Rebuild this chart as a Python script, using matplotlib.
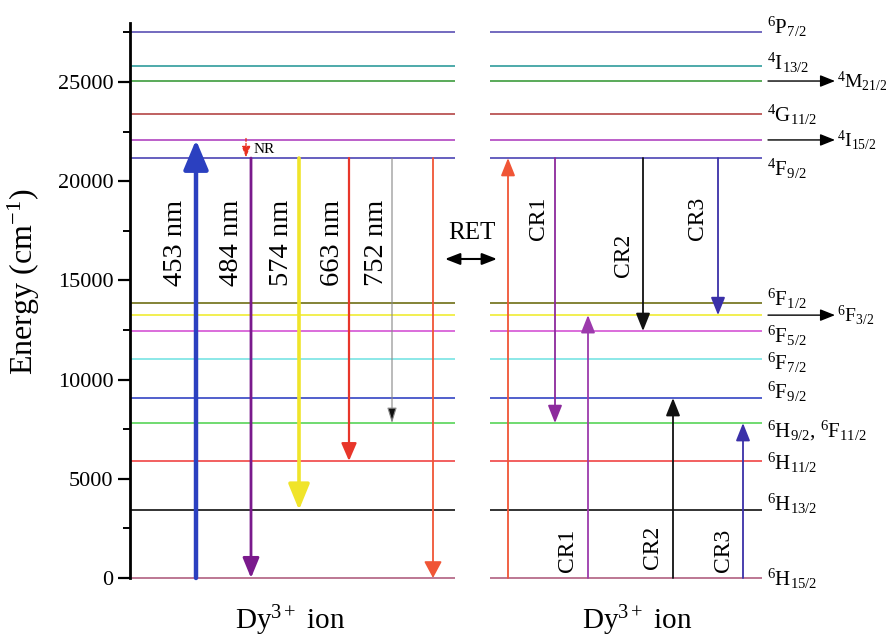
import matplotlib
matplotlib.use("Agg")
import matplotlib.pyplot as plt
from matplotlib.ticker import MultipleLocator

plt.rcParams['font.family'] = ['Liberation Serif', 'DejaVu Serif']
plt.rcParams['mathtext.fontset'] = 'custom'
plt.rcParams['mathtext.rm'] = 'Liberation Serif'
plt.rcParams['mathtext.it'] = 'Liberation Serif:italic'

# Dy3+ energy levels (cm^-1) and their line colours
level_energy = [27500, 25800, 25050, 23400, 22080, 21170, 13860, 13250,
                12450, 11040, 9070, 7810, 5900, 3430, 0]
level_color = ['#5b50b4', '#2f9c9c', '#3d9c3d', '#b44646', '#b044c0', '#4c44b4',
               '#6e6e14', '#f0ec34', '#d454d4', '#78e4e4', '#3444c4', '#58d458',
               '#f04444', '#111111', '#b06080']

# state labels next to the right panel (text, baseline energy)
state_text = [r'$^{6}\mathrm{P}_{7/2}$', r'$^{4}\mathrm{I}_{13/2}$', r'$^{4}\mathrm{G}_{11/2}$',
              r'$^{4}\mathrm{F}_{9/2}$', r'$^{6}\mathrm{F}_{1/2}$', r'$^{6}\mathrm{F}_{5/2}$',
              r'$^{6}\mathrm{F}_{7/2}$', r'$^{6}\mathrm{F}_{9/2}$',
              r'$^{6}\mathrm{H}_{9/2}$, $^{6}\mathrm{F}_{11/2}$', r'$^{6}\mathrm{H}_{11/2}$',
              r'$^{6}\mathrm{H}_{13/2}$', r'$^{6}\mathrm{H}_{15/2}$']
state_y = [27420, 25600, 22980, 20260, 13710, 11840, 10480, 9020, 7110, 5440, 3380, -400]

# overlapping states pointed to with arrows
side_text = [r'$^{4}\mathrm{M}_{21/2}$', r'$^{4}\mathrm{I}_{15/2}$', r'$^{6}\mathrm{F}_{3/2}$']
side_level = [25050, 22080, 13250]

# emission / excitation arrows in the left panel: x, start, end, colour, width, head w, head l
left_x = [66, 121, 169, 219, 262, 303]
left_from = [0, 21170, 21170, 21170, 21170, 21170]
left_to = [22080, 0, 3430, 5900, 7810, 0]
left_color = ['#2b40c0', '#7a1a8c', '#f0e42a', '#e8362a', '#888888', '#f05536']
left_lw = [3.2, 2.0, 2.6, 1.6, 0.8, 1.3]
left_hw = [21, 14, 18, 13, 8, 15]
left_hl = [25, 17, 22, 15, 13, 14]
left_text = ['453 nm', '484 nm', '574 nm', '663 nm', '752 nm']
left_text_x = [45, 101, 152, 202, 246]

# cross-relaxation arrows in the right panel
right_x = [378, 425, 458, 513, 543, 588, 613]
right_from = [0, 21170, 0, 21170, 0, 21170, 0]
right_to = [21170, 7810, 13250, 12450, 9070, 13250, 7810]
right_color = ['#f05536', '#8c2a9c', '#9c3aac', '#111111', '#111111', '#3a30a8', '#3a30a8']
right_text = ['CR1', 'CR2', 'CR3', 'CR1', 'CR2', 'CR3']
right_text_x = [408, 493, 567, 437, 522, 593]
right_text_y = [18150, 16280, 18150, 1400, 1550, 1400]

fig = plt.figure(figsize=(8.86, 6.37), dpi=100)
ax = fig.add_axes([130 / 886, 59 / 637, 632 / 886, 555.5 / 637])
ax.set_xlim(0, 632)
ax.set_ylim(0, 28000)

ax.hlines(level_energy, 0, 325, colors=level_color, lw=1.2, clip_on=False)
ax.hlines(level_energy, 360, 632, colors=level_color, lw=1.2, clip_on=False)


def arrow(x, y0, y1, color, lw, hw, hl, fc=None, ls='-'):
    ax.annotate('', xy=(x, y1), xytext=(x, y0), annotation_clip=False,
                arrowprops=dict(arrowstyle='-|>,head_length=%g,head_width=%g' % (hl * 0.72, hw * 0.36),
                                mutation_scale=1, color=color, fc=fc or color, lw=lw,
                                shrinkA=0, shrinkB=0, linestyle=ls))


for i in range(len(left_x)):
    fc = '#111111' if i == 4 else None
    arrow(left_x[i], left_from[i], left_to[i], left_color[i], left_lw[i],
          left_hw[i], left_hl[i], fc=fc)
for i, t in enumerate(left_text):
    ax.text(left_text_x[i], 16900, t, rotation=90, fontsize=20.5, ha='center', va='center')

# non-radiative relaxation
arrow(116, 22150, 21200, '#e83020', 1.0, 7, 9, ls=(0, (2, 1.5)))
ax.text(124, 21600, 'NR', fontsize=11, ha='left', va='center')

for i in range(len(right_x)):
    arrow(right_x[i], right_from[i], right_to[i], right_color[i], 1.3, 12, 15)
for i, t in enumerate(right_text):
    ax.text(right_text_x[i], right_text_y[i], t, rotation=90, fontsize=17, ha='center', va='center')

# resonance energy transfer
ax.annotate('', xy=(367, 16080), xytext=(315, 16080),
            arrowprops=dict(arrowstyle='<|-|>,head_length=9,head_width=3.5', mutation_scale=1,
                            color='black', lw=1.5, shrinkA=0, shrinkB=0))
ax.text(342, 17400, 'RET', fontsize=18, ha='center', va='center')

for t, y in zip(state_text, state_y):
    ax.text(637, y, t, fontsize=15, ha='left', va='baseline')
for t, y in zip(side_text, side_level):
    ax.annotate('', xy=(705, y), xytext=(638, y), annotation_clip=False,
                arrowprops=dict(arrowstyle='-|>,head_length=9,head_width=3.6', mutation_scale=1,
                                color='black', lw=1.0, shrinkA=0, shrinkB=0))
    ax.text(707, y - 300, t, fontsize=14, ha='left', va='baseline')

ax.text(160, -2600, r'Dy$^{3+}$ ion', fontsize=21, ha='center', va='baseline')
ax.text(507, -2600, r'Dy$^{3+}$ ion', fontsize=21, ha='center', va='baseline')

for s in ['top', 'right', 'bottom']:
    ax.spines[s].set_visible(False)
ax.spines['left'].set_linewidth(2)
ax.set_xticks([])
ax.yaxis.set_major_locator(MultipleLocator(5000))
ax.yaxis.set_minor_locator(MultipleLocator(2500))
ax.tick_params(axis='y', which='major', length=9, width=1.6, labelsize=16, pad=3)
ax.tick_params(axis='y', which='minor', length=5, width=1.4)
ax.set_ylabel(r'Energy (cm$^{-1}$)', fontsize=23)
ax.yaxis.set_label_coords(-0.140, 0.533)

fig.savefig('out.png', dpi=100)
